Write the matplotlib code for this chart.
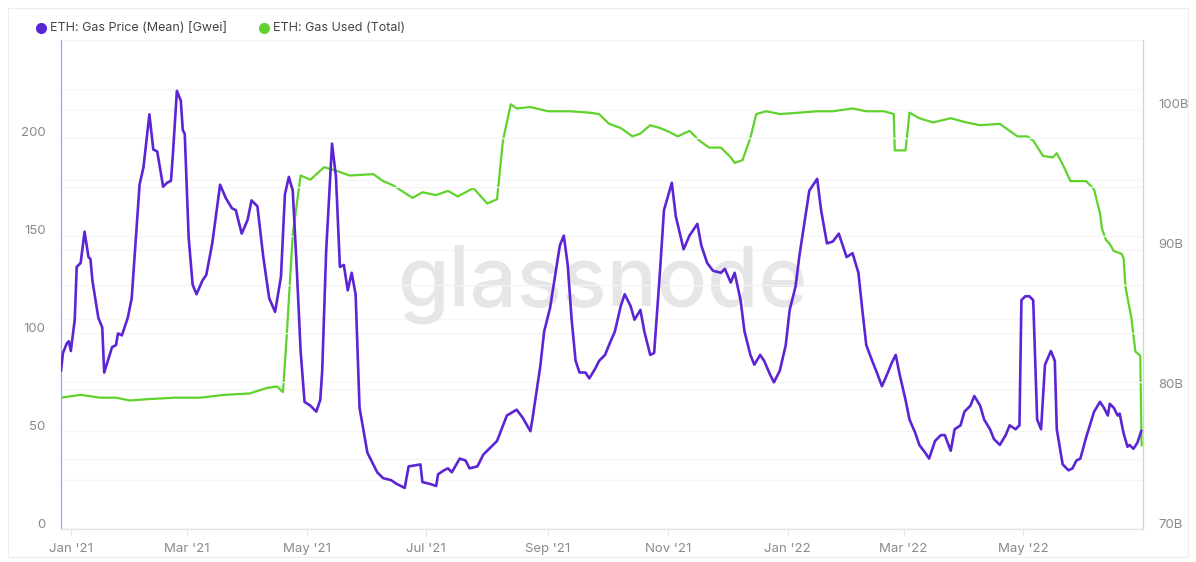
import numpy as np
import pandas as pd
import matplotlib
matplotlib.use("Agg")
import matplotlib.pyplot as plt
import matplotlib.dates as mdates
from matplotlib.lines import Line2D
from matplotlib.patches import Rectangle
from matplotlib.transforms import ScaledTranslation

# Data (x = days since 2021-01-01)
START = pd.Timestamp("2021-01-01")

price_days = [-5, -4, -2, -1, 0, 2, 3, 5, 7, 9, 10, 11, 14, 16, 17, 21, 23, 24, 26, 29,
              31, 33, 35, 37, 40, 42, 44, 47, 49, 51, 52, 54, 56, 57, 58, 60, 62, 64, 67, 69,
              72, 76, 79, 82, 84, 87, 90, 92, 95, 98, 101, 104, 107, 109, 111, 113, 115, 117, 119, 122,
              125, 127, 128, 130, 133, 135, 137, 139, 141, 143, 145, 147, 151, 156, 159, 163, 166, 170, 172, 178,
              179, 183, 186, 187, 190, 192, 194, 198, 201, 203, 207, 210, 213, 217, 222, 227, 230, 234, 235, 239,
              241, 244, 247, 249, 251, 253, 255, 257, 259, 262, 264, 267, 269, 272, 274, 277, 280, 282, 285, 287,
              290, 292, 295, 297, 300, 302, 306, 308, 312, 315, 319, 321, 324, 327, 331, 333, 336, 338, 341, 343,
              346, 348, 351, 353, 356, 358, 361, 364, 366, 369, 371, 374, 376, 380, 382, 385, 388, 391, 393, 395,
              398, 401, 403, 405, 408, 410, 413, 416, 418, 420, 422, 425, 427, 430, 432, 435, 437, 440, 443, 445,
              448, 450, 453, 455, 458, 460, 463, 465, 468, 470, 473, 476, 478, 481, 483, 484, 486, 488, 490, 492,
              494, 496, 499, 501, 502, 505, 508, 510, 512, 514, 517, 521, 524, 526, 528, 529, 531, 533, 534, 536,
              538, 539, 541, 543, 545]
price_gwei = [81, 90, 95, 96, 91, 107, 134, 136, 152, 139, 138, 127, 108, 103, 80, 93, 94, 100, 99, 108,
              118, 147, 176, 185, 212, 194, 193, 175, 177, 178, 192, 224, 219, 204, 202, 149, 125, 120, 127, 130,
              146, 176, 169, 164, 163, 151, 158, 168, 165, 139, 118, 111, 129, 171, 180, 173, 134, 91, 65, 63,
              60, 66, 81, 142, 197, 180, 134, 135, 122, 131, 120, 62, 39, 29, 26, 25, 23, 21, 32, 33,
              24, 23, 22, 28, 30, 31, 29, 36, 35, 31, 32, 38, 41, 45, 58, 61, 57, 50, 56, 83,
              101, 113, 132, 145, 150, 135, 107, 86, 80, 80, 77, 82, 86, 89, 94, 101, 114, 120, 114, 107,
              112, 101, 89, 90, 132, 163, 177, 160, 143, 150, 156, 145, 136, 132, 131, 133, 126, 131, 117, 101,
              89, 84, 89, 86, 79, 75, 81, 94, 112, 124, 140, 160, 173, 179, 163, 146, 147, 151, 145, 139,
              141, 131, 112, 94, 86, 81, 73, 80, 85, 89, 79, 66, 56, 49, 43, 39, 36, 45, 48, 48,
              40, 51, 53, 60, 63, 68, 63, 56, 51, 46, 43, 48, 53, 51, 53, 117, 119, 119, 117, 56,
              51, 84, 91, 86, 51, 33, 30, 31, 35, 36, 47, 60, 65, 62, 58, 64, 62, 58, 59, 49,
              42, 43, 41, 44, 50]

used_days = [-5, 5, 15, 23, 30, 40, 53, 66, 78, 91, 100, 105, 108, 110, 113, 117, 122, 129, 136, 142,
             154, 159, 164, 174, 179, 186, 192, 197, 205, 212, 217, 220, 224, 227, 234, 243, 254, 264, 269, 274,
             280, 286, 290, 295, 300, 305, 309, 315, 320, 325, 331, 336, 338, 342, 346, 349, 354, 361, 371, 380,
             388, 398, 405, 414, 419, 419.5, 425, 427, 432, 439, 448, 456, 463, 473, 482, 487, 490, 495, 500, 502,
             505, 509, 517, 521, 524, 525, 527, 529, 531, 535, 536, 537, 540, 542, 544.5, 545.2]
used_billions = [79.4, 79.6, 79.4, 79.4, 79.2, 79.3, 79.4, 79.4, 79.6, 79.7, 80.1, 80.2, 79.8, 84.0, 91.1, 95.3, 95.0, 95.9, 95.6, 95.3,
                 95.4, 94.9, 94.6, 93.7, 94.1, 93.9, 94.2, 93.8, 94.4, 93.3, 93.6, 97.8, 100.4, 100.1, 100.2, 99.9, 99.9, 99.8, 99.7, 99.0,
                 98.7, 98.1, 98.3, 98.9, 98.7, 98.4, 98.1, 98.5, 97.8, 97.3, 97.3, 96.6, 96.2, 96.4, 98.0, 99.7, 99.9, 99.7, 99.8, 99.9,
                 99.9, 100.1, 99.9, 99.9, 99.7, 97.1, 97.1, 99.8, 99.4, 99.1, 99.4, 99.1, 98.9, 99.0, 98.1, 98.1, 97.8, 96.7, 96.6, 96.9,
                 96.1, 94.9, 94.9, 94.3, 92.6, 91.5, 90.7, 90.4, 89.9, 89.7, 89.4, 87.3, 85.1, 82.7, 82.4, 76.0]

month_ticks = ["2021-01-01", "2021-03-01", "2021-05-01", "2021-07-01", "2021-09-01",
               "2021-11-01", "2022-01-01", "2022-03-01", "2022-05-01"]

PURPLE = "#5b25d6"
GREEN = "#5fd32c"
LABEL_GRAY = "#8a8a8a"

plt.rcParams["font.family"] = ["Inter", "DejaVu Sans"]


def to_dates(days):
    return START + pd.to_timedelta(np.asarray(days, dtype=float), unit="D")


def main():
    fig = plt.figure(figsize=(11.96, 5.62), dpi=100)
    fig.patch.set_facecolor("white")
    # light frame around the whole chart
    fig.add_artist(Rectangle((8 / 1196, 5 / 562), 1180 / 1196, 549 / 562, transform=fig.transFigure,
                             fill=False, edgecolor="#ededed", linewidth=0.8))

    ax = fig.add_axes([61 / 1196, 33 / 562, 1082 / 1196, 489 / 562])
    ax2 = ax.twinx()

    # watermark
    ax.text(0.5, 0.5, "glassnode", transform=ax.transAxes, ha="center", va="center",
            fontsize=60, color="#e6e6e6", fontweight="medium", zorder=0)

    ax.plot(to_dates(price_days), price_gwei, color=PURPLE, lw=1.9, zorder=3, solid_joinstyle="round")
    ax2.plot(to_dates(used_days), used_billions, color=GREEN, lw=1.6, zorder=2, solid_joinstyle="round")
    ax.set_zorder(ax2.get_zorder() + 1)
    ax.patch.set_visible(False)

    ax.set_xlim(to_dates([-5])[0], to_dates([545.9])[0])
    ax.set_ylim(0, 250)
    ax2.set_ylim(70, 105)

    # grid lines for both axes
    for v in np.arange(0, 251, 25):
        ax.axhline(v, color="#f4f4f4", lw=0.9, zorder=0)
    for v in np.arange(70, 106, 5):
        ax2.axhline(v, color="#f5f5f5", lw=0.9, zorder=0)

    ax.set_yticks([0, 50, 100, 150, 200])
    ax2.set_yticks([70, 80, 90, 100])
    ax2.set_yticklabels(["70B", "80B", "90B", "100B"])

    ax.set_xticks(pd.to_datetime(month_ticks))
    ax.xaxis.set_major_formatter(mdates.DateFormatter("%b '%y"))

    ax.tick_params(axis="y", length=0, pad=11, labelsize=9.5, labelcolor=LABEL_GRAY)
    ax2.tick_params(axis="y", length=0, pad=11, labelsize=9.5, labelcolor=LABEL_GRAY)
    ax.tick_params(axis="x", length=5, color="#e6e6e6", pad=5, labelsize=9.5, labelcolor=LABEL_GRAY)

    # y labels sit a little above their grid lines
    up = ScaledTranslation(0, 6 / 100, fig.dpi_scale_trans)
    for lab in ax.get_yticklabels() + ax2.get_yticklabels():
        lab.set_transform(lab.get_transform() + up)

    for a in (ax, ax2):
        for s in a.spines.values():
            s.set_visible(False)
    ax.spines["left"].set_visible(True)
    ax.spines["left"].set_color("#a99df2")
    ax.spines["left"].set_linewidth(0.9)
    ax2.spines["right"].set_visible(True)
    ax2.spines["right"].set_color("#b5eca4")
    ax2.spines["right"].set_linewidth(0.9)
    ax.spines["bottom"].set_visible(True)
    ax.spines["bottom"].set_color("#e3e3e3")
    ax.spines["bottom"].set_linewidth(0.9)

    # legend
    y_leg = 1 - 28 / 562
    fig.add_artist(Line2D([41 / 1196], [y_leg], marker="o", markersize=7, color=PURPLE,
                          transform=fig.transFigure))
    fig.text(50 / 1196, y_leg, "ETH: Gas Price (Mean) [Gwei]", va="center", ha="left",
             fontsize=9, color="#444444")
    fig.add_artist(Line2D([264 / 1196], [y_leg], marker="o", markersize=7, color=GREEN,
                          transform=fig.transFigure))
    fig.text(273 / 1196, y_leg, "ETH: Gas Used (Total)", va="center", ha="left",
             fontsize=9, color="#444444")

    fig.savefig("out.png", dpi=100, facecolor="white")


if __name__ == "__main__":
    main()
